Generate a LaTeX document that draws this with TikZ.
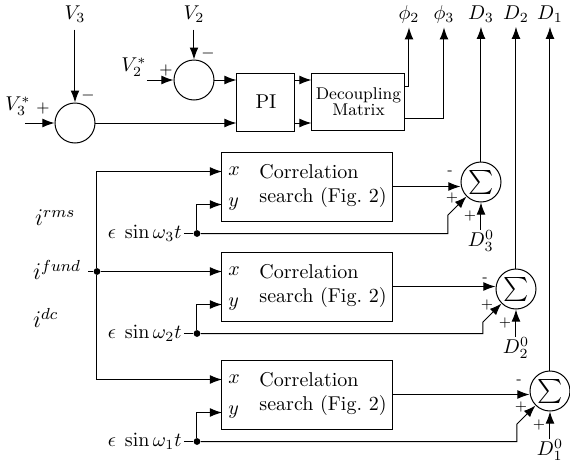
\documentclass[tikz,border=0pt]{standalone}
\usepackage{amsmath,amssymb}
\usepackage{tikz}
\usetikzlibrary{arrows.meta,positioning}
\tikzset{>={Latex[length=6pt,width=4.4pt]}}
\tikzset{
  sumc/.style={draw,circle,minimum size=20pt,inner sep=0pt},
  blk/.style={draw,rectangle,inner sep=0pt},
  corr/.style={blk,minimum width=85.5pt,minimum height=34.5pt},
  jdot/.style={circle,fill,inner sep=0pt,minimum size=3.4pt},
  sgn/.style={font=\scriptsize,inner sep=0pt},
}

\begin{document}
\begin{tikzpicture}[x=0.5pt,y=-0.5pt,line width=0.5pt]
    \useasboundingbox (0,0) rectangle (570,467);

    \node (v3) at (75,14) {$V_3$};
    \node (v2) at (194,14) {$V_2$};
    \node (v3s) at (18,106) {$V_3^*$};
    \node (v2s) at (134,67) {$V_2^*$};
    \coordinate (v3in) at (25,123);
    \coordinate (v2in) at (147,80);
    \node[sumc] (c3) at (75,123) {};
    \node[sumc] (c2) at (194,80) {};
    \node[blk,minimum width=29pt,minimum height=29pt] (pi) at (266,102) {PI};
    \node[blk,minimum width=46.5pt,minimum height=28.5pt,align=center,
          font=\fontsize{8.5}{8}\selectfont] (dm) at (358.5,101.5) {Decoupling\\Matrix};
    \node[font=\footnotesize] at (43,108) {$+$};
    \node[font=\footnotesize] at (88,95) {$-$};
    \node[font=\footnotesize] at (166,70) {$+$};
    \node[font=\footnotesize] at (208,53) {$-$};

    \draw[->] (v3) -- (c3);
    \draw[->] (v2) -- (c2);
    \draw[->] (v3in) -- (c3);
    \draw[->] (v2in) -- (c2);
    \draw[->] (c2) -- (c2 -| pi.west);
    \draw[->] (c3) -- (c3 -| pi.west);
    \draw[->] (c2 -| pi.east) -- (c2 -| dm.west);
    \draw[->] (c3 -| pi.east) -- (c3 -| dm.west);

    \node[inner sep=2pt] (p2) at (409,14) {$\phi_2$};
    \node[inner sep=2pt] (p3) at (444,14) {$\phi_3$};
    \draw[->] ([yshift=7.75pt]dm.east) -| (p2);
    \draw[->] ([yshift=-8.25pt]dm.east) -| (p3);

    \foreach \n/\by/\sx/\sy in {3/186.5/481/182, 2/286.5/516/289, 1/394.5/550/391}{
        \node[corr] (b\n) at (307.5,\by) {};
        \node[align=left] at (323,\by-1) {Correlation\\search (Fig.~2)};
        \coordinate (x\n) at (222,\by-15);
        \coordinate (y\n) at (222,\by+18);
        \node[right,inner sep=3pt] at (x\n) {$x$};
        \node[right,inner sep=3pt] at (y\n) {$y$};
        \node[sumc,font=\large] (s\n) at (\sx,\sy) {$\sum$};
        \node[jdot] (d\n) at (197,\by+47) {};
        \node[anchor=east,inner sep=1pt] (w\n) at (184,\by+47) {$\epsilon\;\sin\omega_\n t$};
        \coordinate (k\n) at (\sx-33,\sy+33);
        \node[inner sep=0pt] (z\n) at (\sx,\sy+59) {$D_\n^0$};
        \node[inner sep=2pt] (o\n) at (\sx,14) {$D_\n$};
        \draw (w\n) -- (d\n);
        \draw[->] (d\n) |- (y\n);
        \draw[->] (d\n) -| (k\n) -- (s\n.south west);
        \draw[->] (b\n) -- (b\n -| s\n.west);
        \draw[->] (z\n) -- (s\n);
        \draw[->] (s\n) -- (o\n);
        \node[sgn] at (\sx-31,\sy-9) {-};
        \node[sgn] at (\sx-29,\sy+16) {+};
        \node[sgn] at (\sx-11,\sy+34) {+};
    }

    \node[jdot] (j) at (97,271.5) {};
    \node[anchor=west,font=\large] (ifd) at (26,270) {$i^{fund}$};
    \node[anchor=west,font=\large] (irms) at (28,218) {$i^{rms}$};
    \node[anchor=west,font=\large] (idc) at (26,318) {$i^{dc}$};
    \draw (ifd.east |- j) -- (j);
    \draw[->] (j) -- (x2);
    \draw[->] (j) |- (x3);
    \draw[->] (j) |- (x1);
\end{tikzpicture}
\end{document}
